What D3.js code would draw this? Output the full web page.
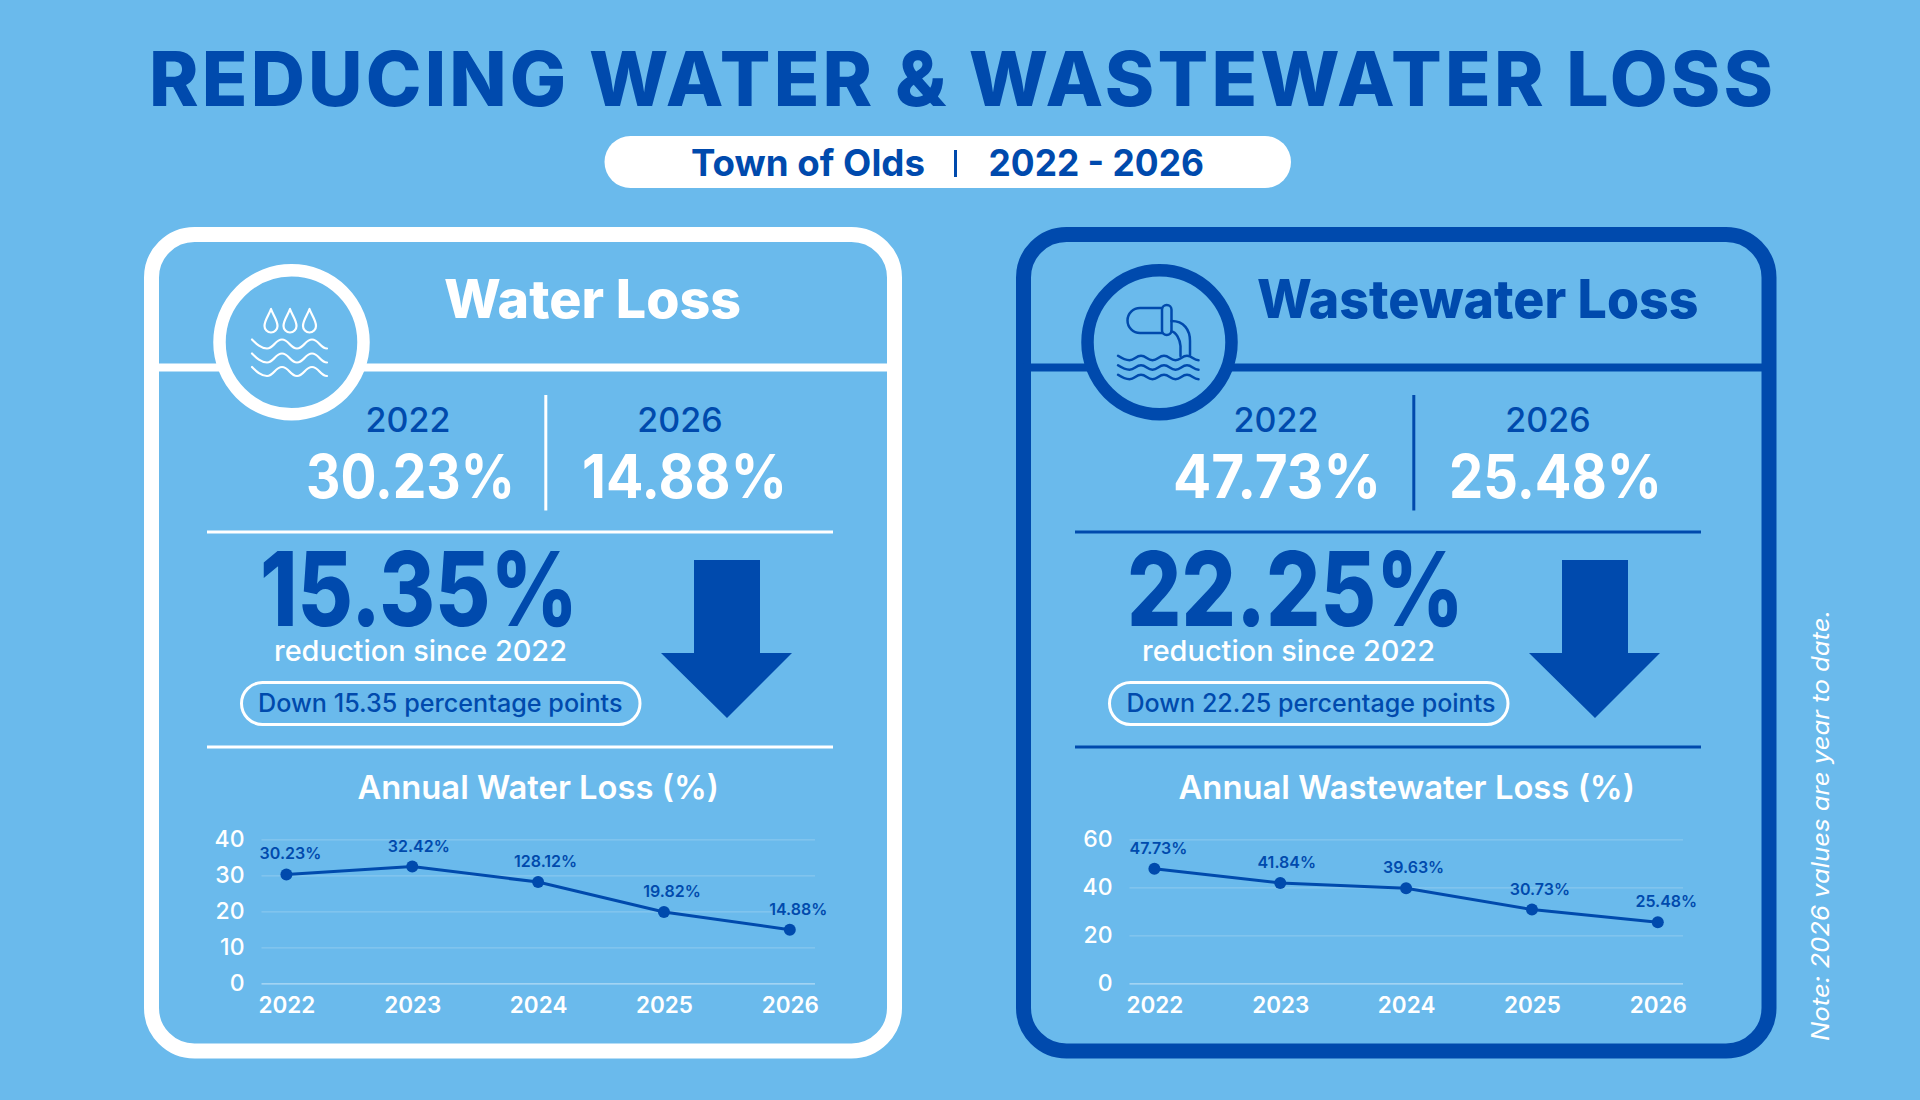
<!DOCTYPE html>
<html>
<head>
<meta charset="utf-8">
<title>Reducing Water & Wastewater Loss</title>
<script src="https://cdnjs.cloudflare.com/ajax/libs/d3/7.8.5/d3.min.js"></script>
<style>
  html, body { margin: 0; padding: 0; background: #6abaec; }
  svg { display: block; font-family: Inter, "Noto Sans", sans-serif; }
</style>
</head>
<body>
<div id="chart"></div>
<script>
// Town of Olds infographic: two cards, each with a small line chart.

const years = ["2022", "2023", "2024", "2025", "2026"];

const waterLoss = [30.23, 32.42, 28.12, 19.82, 14.88];
const waterLabels = ["30.23%", "32.42%", "128.12%", "19.82%", "14.88%"]; // 128.12% is printed that way in the source
const waterTicks = [0, 10, 20, 30, 40];

const wastewaterLoss = [47.73, 41.84, 39.63, 30.73, 25.48];
const wastewaterLabels = ["47.73%", "41.84%", "39.63%", "30.73%", "25.48%"];
const wastewaterTicks = [0, 20, 40, 60];

const PALETTE = {
  bg: "#6abaec",
  blue: "#004aad",
  white: "#ffffff",
};

const WIDTH = 1920;
const HEIGHT = 1100;
const CARD_OFFSET = 868; // content of the second card sits this far right of the first
const FRAME_OFFSET = 872; // its frame is a little further over
const LABEL_NUDGE = [4, 6.5, 7.5, 8, 8.5]; // labels drift right of their points

const svg = d3
  .select("#chart")
  .append("svg")
  .attr("viewBox", [0, 0, WIDTH, HEIGHT])
  .attr("width", WIDTH)
  .attr("height", HEIGHT);

svg.append("rect").attr("width", WIDTH).attr("height", HEIGHT).attr("fill", PALETTE.bg);

// Text fitted between two x positions, so the widths follow the source font.
function fit(group, str, x0, x1, baseline, size, weight, fill, adjust = "spacingAndGlyphs") {
  return group
    .append("text")
    .attr("x", x0)
    .attr("y", baseline)
    .attr("textLength", x1 - x0)
    .attr("lengthAdjust", adjust)
    .attr("fill", fill)
    .style("font-size", `${size}px`)
    .style("font-weight", weight)
    .text(str);
}

// header
fit(svg, "REDUCING WATER & WASTEWATER LOSS", 149, 1773, 106, 75, 800, PALETTE.blue, "spacing");
svg
  .append("rect")
  .attr("x", 604.5)
  .attr("y", 136)
  .attr("width", 686.5)
  .attr("height", 52)
  .attr("rx", 26)
  .attr("fill", PALETTE.white);
fit(svg, "Town of Olds", 691, 925, 176, 37, 700, PALETTE.blue);
svg
  .append("rect")
  .attr("x", 954)
  .attr("y", 150)
  .attr("width", 3)
  .attr("height", 27)
  .attr("fill", PALETTE.blue);
fit(svg, "2022 - 2026", 988.5, 1204, 176, 37, 700, PALETTE.blue);

// side note
svg
  .append("text")
  .attr("transform", "translate(1829,1041) rotate(-90)")
  .attr("textLength", 431)
  .attr("lengthAdjust", "spacingAndGlyphs")
  .attr("fill", PALETTE.white)
  .style("font-size", "24px")
  .style("font-style", "italic")
  .style("font-weight", 400)
  .text("Note: 2026 values are year to date.");

function wave(x0, x1, y, period, amp) {
  // sine-ish ribbon built from smooth cubic segments
  const half = period / 2;
  let d = `M${x0},${y - amp} C${x0 + half * 0.3},${y} ${x0 + half * 0.6},${y + amp} ${x0 + half},${y + amp}`;
  let x = x0 + half;
  let up = true;
  while (x + half <= x1 + 1) {
    const a = up ? y + amp : y - amp;
    const b = up ? y - amp : y + amp;
    d += ` C${x + half * 0.45},${a} ${x + half * 0.55},${b} ${x + half},${b}`;
    x += half;
    up = !up;
  }
  return d;
}

function waterIcon(group) {
  const icon = group
    .append("g")
    .attr("fill", "none")
    .attr("stroke", PALETTE.white)
    .attr("stroke-width", 2.2)
    .attr("stroke-linecap", "round")
    .attr("stroke-linejoin", "round");
  [271, 290, 309.5].forEach((cx) => {
    icon
      .append("path")
      .attr(
        "d",
        `M${cx},309 C${cx - 2},315 ${cx - 6.5},320 ${cx - 6.5},326 A6.5,6.5 0 0 0 ${cx + 6.5},326 C${cx + 6.5},320 ${cx + 2},315 ${cx},309 Z`
      );
  });
  [344, 358, 371.5].forEach((y) => icon.append("path").attr("d", wave(252, 327, y, 30, 4.5)));
}

function sewageIcon(group) {
  const icon = group
    .append("g")
    .attr("fill", "none")
    .attr("stroke", PALETTE.blue)
    .attr("stroke-width", 2.5)
    .attr("stroke-linecap", "round")
    .attr("stroke-linejoin", "round");
  icon.append("path").attr("d", "M1162,308 H1140 A12.5,12.5 0 0 0 1140,333 H1162");
  icon
    .append("rect")
    .attr("x", 1162)
    .attr("y", 305)
    .attr("width", 9.5)
    .attr("height", 30)
    .attr("rx", 4.7);
  icon.append("path").attr("d", "M1171.5,321 C1184,321 1190,330 1190,341 V355");
  icon.append("path").attr("d", "M1171.5,331.5 C1176,332 1180,339 1180.5,346 V356");
  [358, 367.5, 377].forEach((y) => icon.append("path").attr("d", wave(1118, 1200, y, 23, 2.2)));
}

function drawLineChart(group, { values, labels, ticks, xRange, gridX0, gridX1 }) {
  const yTop = 839.3;
  const yBase = 983.3;

  const x = d3.scalePoint().domain(years).range(xRange);
  const y = d3.scaleLinear().domain([0, d3.max(ticks)]).range([yBase, yTop]);

  const yAxis = group
    .append("g")
    .attr("transform", `translate(${gridX0},0)`)
    .call(d3.axisLeft(y).tickValues(ticks).tickSize(-(gridX1 - gridX0)).tickPadding(17));
  yAxis.select(".domain").remove();
  yAxis
    .selectAll(".tick line")
    .attr("stroke", PALETTE.white)
    .attr("stroke-width", 1.2)
    .attr("stroke-opacity", (d) => (d === 0 ? 0.5 : 0.2));
  yAxis
    .selectAll(".tick text")
    .attr("fill", PALETTE.white)
    .style("font-family", "Inter, sans-serif")
    .style("font-size", "23px")
    .style("font-weight", 500);

  const xAxis = group
    .append("g")
    .attr("transform", `translate(0,${yBase})`)
    .call(d3.axisBottom(x).tickSize(0).tickPadding(13.5));
  xAxis.select(".domain").remove();
  xAxis
    .selectAll(".tick text")
    .attr("fill", PALETTE.white)
    .style("font-family", "Inter, sans-serif")
    .style("font-size", "22.5px")
    .style("font-weight", 600);

  const line = d3
    .line()
    .x((d, i) => x(years[i]))
    .y((d) => y(d));

  group
    .append("path")
    .attr("d", line(values))
    .attr("fill", "none")
    .attr("stroke", PALETTE.blue)
    .attr("stroke-width", 3);

  group
    .append("g")
    .selectAll("circle")
    .data(values)
    .join("circle")
    .attr("cx", (d, i) => x(years[i]))
    .attr("cy", (d) => y(d))
    .attr("r", 6)
    .attr("fill", PALETTE.blue);

  group
    .append("g")
    .selectAll("text")
    .data(values)
    .join("text")
    .attr("x", (d, i) => x(years[i]) + LABEL_NUDGE[i])
    .attr("y", (d) => y(d) - 15)
    .attr("text-anchor", "middle")
    .attr("fill", PALETTE.blue)
    .style("font-size", "16px")
    .style("font-weight", 600)
    .text((d, i) => labels[i]);
}

function drawCard(card) {
  const g = svg.append("g");
  const ink = card.ink;

  // frame, header rule and icon ring
  g.append("rect")
    .attr("x", card.frameShift + 151.5)
    .attr("y", 234.5)
    .attr("width", card.frameWidth)
    .attr("height", 816.5)
    .attr("rx", 43)
    .attr("fill", "none")
    .attr("stroke", ink)
    .attr("stroke-width", 15);
  g.append("rect")
    .attr("x", card.frameShift + 151.5)
    .attr("y", 363.5)
    .attr("width", card.frameWidth)
    .attr("height", 8)
    .attr("fill", ink);
  g.append("circle")
    .attr("cx", card.shift + 291.5)
    .attr("cy", 342.3)
    .attr("r", 72)
    .attr("fill", PALETTE.bg)
    .attr("stroke", ink)
    .attr("stroke-width", 12.5);
  card.icon(g);

  fit(g, card.title, card.titleX[0], card.titleX[1], 318, 53, 800, ink);

  // start and end figures
  [0, 1].forEach((i) => {
    g.append("text")
      .attr("x", card.shift + [408, 680][i])
      .attr("y", 431.5)
      .attr("text-anchor", "middle")
      .attr("fill", PALETTE.blue)
      .style("font-size", "34px")
      .style("font-weight", 500)
      .text(card.ends[i]);
    fit(g, card.endValues[i], card.endX[i][0], card.endX[i][1], 498, 60, 700, PALETTE.white);
  });
  g.append("rect")
    .attr("x", card.shift + 544.3)
    .attr("y", 395)
    .attr("width", 3)
    .attr("height", 115.5)
    .attr("fill", ink);

  // dividers
  [532, 747].forEach((y) => {
    g.append("rect")
      .attr("x", card.shift + 207)
      .attr("y", y - 1.5)
      .attr("width", 626)
      .attr("height", 3)
      .attr("fill", ink);
  });

  // headline change
  fit(g, card.change, card.changeX[0], card.changeX[1], 626, 103, 800, PALETTE.blue);
  fit(g, "reduction since 2022", card.shift + 274, card.shift + 567, 661, 29, 500, PALETTE.white);
  g.append("rect")
    .attr("x", card.shift + 241.5)
    .attr("y", 682.5)
    .attr("width", 398.5)
    .attr("height", 42)
    .attr("rx", 21)
    .attr("fill", "none")
    .attr("stroke", PALETTE.white)
    .attr("stroke-width", 3);
  fit(g, card.pill, card.pillX[0], card.pillX[1], 711.5, 25, 500, PALETTE.blue);

  // arrow
  const ax = card.shift;
  g.append("path")
    .attr(
      "d",
      `M${ax + 694},560 H${ax + 760} V653 H${ax + 792} L${ax + 727},718 L${ax + 661},653 H${ax + 694} Z`
    )
    .attr("fill", PALETTE.blue);

  fit(g, card.chartTitle, card.chartTitleX[0], card.chartTitleX[1], 799, 32, 600, PALETTE.white);

  drawLineChart(g, {
    values: card.values,
    labels: card.labels,
    ticks: card.ticks,
    xRange: [card.shift + 286.4, card.shift + 789.8],
    gridX0: card.shift + 261.5,
    gridX1: card.shift + 815,
  });
}

drawCard({
  shift: 0,
  frameShift: 0,
  frameWidth: 743,
  ink: PALETTE.white,
  icon: waterIcon,
  title: "Water Loss",
  titleX: [444, 741],
  ends: ["2022", "2026"],
  endValues: ["30.23%", "14.88%"],
  endX: [[306, 515], [582, 787]],
  change: "15.35%",
  changeX: [260, 578],
  pill: "Down 15.35 percentage points",
  pillX: [258, 622.5],
  chartTitle: "Annual Water Loss (%)",
  chartTitleX: [357.5, 719],
  values: waterLoss,
  labels: waterLabels,
  ticks: waterTicks,
});

drawCard({
  shift: CARD_OFFSET,
  frameShift: FRAME_OFFSET,
  frameWidth: 745.5,
  ink: PALETTE.blue,
  icon: sewageIcon,
  title: "Wastewater Loss",
  titleX: [1257, 1698.5],
  ends: ["2022", "2026"],
  endValues: ["47.73%", "25.48%"],
  endX: [[1173, 1381], [1449, 1662]],
  change: "22.25%",
  changeX: [1127, 1464],
  pill: "Down 22.25 percentage points",
  pillX: [1126.5, 1495.5],
  chartTitle: "Annual Wastewater Loss (%)",
  chartTitleX: [1178.5, 1635],
  values: wastewaterLoss,
  labels: wastewaterLabels,
  ticks: wastewaterTicks,
});
</script>
</body>
</html>
